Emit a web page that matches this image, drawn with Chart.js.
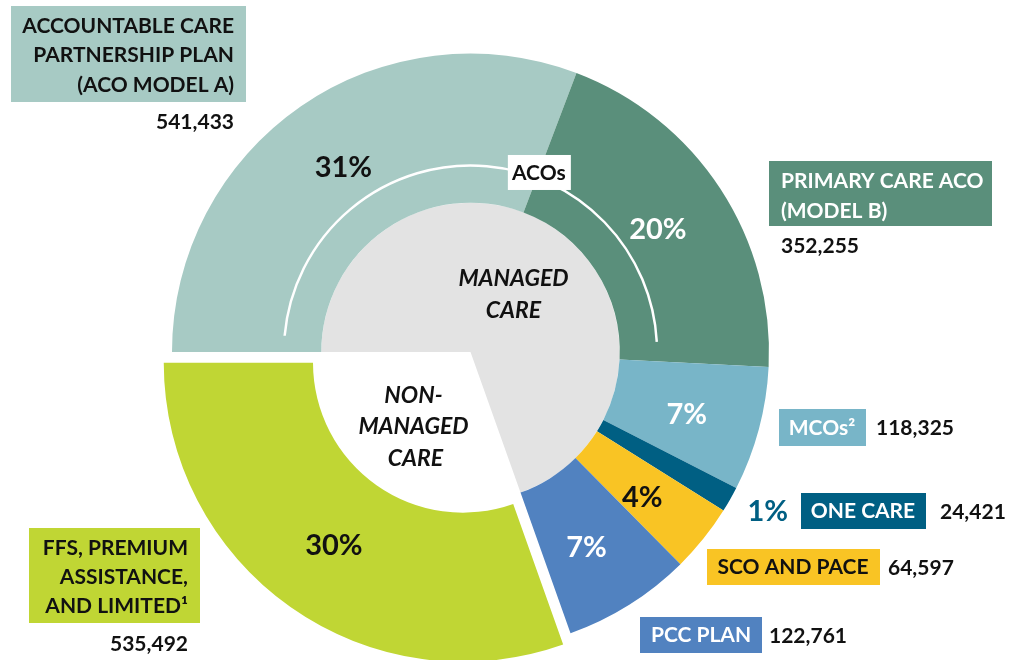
<!DOCTYPE html>
<html>
<head>
<meta charset="utf-8">
<script src="https://cdn.jsdelivr.net/npm/chart.js@4/dist/chart.umd.min.js"></script>
<style>
  html, body { margin: 0; padding: 0; background: #fff; }
  canvas { display: block; }
</style>
</head>
<body>
<canvas id="chart" width="1009" height="660"></canvas>
<script>
// enrollment by plan type
const categories = ["ACO Model A", "ACO Model B", "MCOs", "One Care", "SCO and PACE", "PCC Plan", "FFS, Premium Assistance, and Limited"]
const enrollment = [541433, 352255, 118325, 24421, 64597, 122761, 535492]
const percentLabels = ["31%", "20%", "7%", "1%", "4%", "7%", "30%"]
const numberLabels = ["541,433", "352,255", "118,325", "24,421", "64,597", "122,761", "535,492"]
const boxLabels = [
  ["ACCOUNTABLE CARE", "PARTNERSHIP PLAN", "(ACO MODEL A)"],
  ["PRIMARY CARE ACO", "(MODEL B)"],
  ["MCOs\u00B2"],
  ["ONE CARE"],
  ["SCO AND PACE"],
  ["PCC PLAN"],
  ["FFS, PREMIUM", "ASSISTANCE,", "AND LIMITED\u00B9"]
]
const groups = ["MANAGED CARE", "NON-MANAGED CARE"]
const isManaged = [true, true, true, true, true, true, false]

const sumWhere = flag => enrollment.reduce((s, v, i) => isManaged[i] === flag ? s + v : s, 0)
const groupTotals = [sumWhere(true), sumWhere(false)]

const colors = ["#a7cac4", "#5a8f7b", "#78b5c8", "#005f83", "#f9c424", "#5182c0", "#c0d634"]
const FONT = "Lato, 'Open Sans', sans-serif"
// chart.js v4 moves an arc by offset/4, so 52 -> ~13px
const EXPLODE = 52

// where the outside boxes go (pixels)
const boxLayout = [
  {box: [11, 6, 235, 96], align: "right", tx: 234, ty: [26, 55, 85], color: "#111", nx: 234, ny: 122, nAlign: "right"},
  {box: [769, 161, 223, 65], align: "left", tx: 781, ty: [181, 211], color: "#fff", nx: 781, ny: 246, nAlign: "left"},
  {box: [779, 409, 87, 37], align: "center", tx: 822, ty: [428], color: "#fff", nx: 876, ny: 428, nAlign: "left"},
  {box: [801, 493, 125, 36], align: "center", tx: 863, ty: [511], color: "#fff", nx: 940, ny: 512, nAlign: "left", pct: [788, 512]},
  {box: [707, 549, 173, 36], align: "center", tx: 793, ty: [567], color: "#111", nx: 888, ny: 568, nAlign: "left"},
  {box: [640, 617, 122, 36], align: "center", tx: 701, ty: [635], color: "#fff", nx: 769, ny: 636, nAlign: "left"},
  {box: [29, 528, 171, 95], align: "right", tx: 188, ty: [548, 577, 606], color: "#111", nx: 188, ny: 644, nAlign: "right"}
]
const pctColors = ["#111", "#fff", "#fff", "#005f83", "#111", "#fff", "#111"]
const pctNudge = [[0, 0], [0, 0], [0, 5], [0, 0], [-3, 6], [-3, 6], [0, 0]]

const rad = d => d * Math.PI / 180

const annotations = {
  id: "annotations",
  afterDatasetsDraw(chart) {
    const ctx = chart.ctx
    const arcs = chart.getDatasetMeta(0).data
    const cx = arcs[0].x, cy = arcs[0].y
    const inner = arcs[0].innerRadius, outer = arcs[0].outerRadius
    ctx.save()
    ctx.textBaseline = "middle"

    // white bracket arc over the two ACO slices
    const r = inner + (outer - inner) * 0.25
    ctx.strokeStyle = "#fff"
    ctx.lineWidth = 2.5
    ctx.beginPath()
    ctx.arc(cx, cy, r, arcs[0].startAngle + rad(5), arcs[1].endAngle - rad(6))
    ctx.stroke()
    const a = arcs[0].endAngle
    const lx = cx + Math.cos(a) * (r + 6), ly = cy + Math.sin(a) * (r + 6)
    ctx.fillStyle = "#fff"
    ctx.fillRect(lx - 31, ly - 17, 63, 35)
    ctx.fillStyle = "#111"
    ctx.font = "bold 21px " + FONT
    ctx.textAlign = "center"
    ctx.fillText("ACOs", lx, ly + 1)

    // percentages in the slices
    arcs.forEach((arc, i) => {
      if (boxLayout[i].pct) return
      const mid = (arc.startAngle + arc.endAngle) / 2
      const rr = (arc.innerRadius + arc.outerRadius) / 2
      const off = i === 6 ? EXPLODE / 4 : 0
      const px = arc.x + Math.cos(mid) * (rr + off) + pctNudge[i][0]
      const py = arc.y + Math.sin(mid) * (rr + off) + pctNudge[i][1]
      ctx.fillStyle = pctColors[i]
      ctx.font = "bold 29px " + FONT
      ctx.textAlign = "center"
      ctx.fillText(percentLabels[i], px, py)
    })

    // group names in the centre pie
    ctx.fillStyle = "#111"
    ctx.font = "italic bold 23px " + FONT
    ctx.textAlign = "center"
    ctx.fillText("MANAGED", cx + 43, cy - 73)
    ctx.fillText("CARE", cx + 43, cy - 41)
    ctx.fillText("NON-", cx - 57, cy + 44)
    ctx.fillText("MANAGED", cx - 57, cy + 75)
    ctx.fillText("CARE", cx - 55, cy + 107)

    // outside boxes and counts
    boxLayout.forEach((L, i) => {
      const [bx, by, bw, bh] = L.box
      ctx.fillStyle = colors[i]
      ctx.fillRect(bx, by, bw, bh)
      ctx.fillStyle = L.color
      ctx.font = "bold 21px " + FONT
      ctx.textAlign = L.align
      boxLabels[i].forEach((line, k) => ctx.fillText(line, L.tx, L.ty[k]))
      ctx.fillStyle = "#111"
      ctx.textAlign = L.nAlign
      ctx.fillText(numberLabels[i], L.nx, L.ny)
      if (L.pct) {
        ctx.fillStyle = pctColors[i]
        ctx.font = "bold 29px " + FONT
        ctx.textAlign = "right"
        ctx.fillText(percentLabels[i], L.pct[0], L.pct[1])
      }
    })
    ctx.restore()
  }
}

new Chart(document.getElementById("chart"), {
  type: "doughnut",
  data: {
    labels: categories,
    datasets: [
      {
        label: "Enrollment",
        data: enrollment,
        backgroundColor: colors,
        borderWidth: 0,
        offset: enrollment.map((v, i) => isManaged[i] ? 0 : EXPLODE)
      },
      {
        label: "Group",
        data: groupTotals,
        backgroundColor: ["#e3e3e3", "#ffffff"],
        borderWidth: 0,
        offset: [0, EXPLODE]
      }
    ]
  },
  options: {
    responsive: false,
    animation: false,
    events: [],
    rotation: 270,
    cutout: 0,
    radius: 298.5,
    layout: { padding: { top: 47, bottom: 3, left: 165, right: 233 } },
    plugins: {
      legend: { display: false },
      tooltip: { enabled: false }
    }
  },
  plugins: [annotations]
})
</script>
</body>
</html>
